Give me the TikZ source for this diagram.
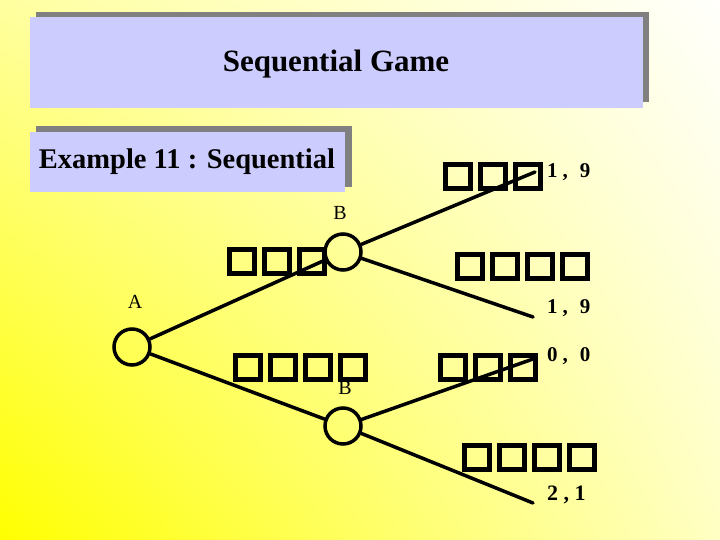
\documentclass[tikz,border=0pt]{standalone}
\usepackage{fontspec}
\setmainfont{Liberation Serif}
\usetikzlibrary{shadings}
\definecolor{boxfill}{RGB}{204,204,255}
\definecolor{shadowgray}{RGB}{128,128,128}
\definecolor{bgLL}{RGB}{255,255,0}
\definecolor{bgUL}{RGB}{255,255,160}
\definecolor{bgLR}{RGB}{255,255,195}
\definecolor{bgUR}{RGB}{255,255,252}
\tikzset{
  gamenode/.style={circle, draw=black, line width=3.5pt, minimum size=36pt, inner sep=0pt},
  branch/.style={line width=3.5pt, line cap=round},
  player/.style={font=\fontsize{20}{22}\selectfont, inner sep=0pt},
  payoff/.style={font=\fontsize{21}{24}\selectfont\bfseries, inner sep=0pt, anchor=west},
  tofusq/.style={draw=black, line width=5pt},
}
\newcommand{\tofurow}[3]{% left x, top y, count
  \foreach \k in {1,...,#3} {
    \draw[tofusq] ({#1+35*(\k-1)+2.5},{#2+2.5}) rectangle ({#1+35*(\k-1)+27.5},{#2+26.5});
  }
}
\begin{document}
\begin{tikzpicture}[x=1pt,y=-1pt]
\useasboundingbox (0,0) rectangle (720,540);
\shade[lower left=bgLL, upper left=bgUL, lower right=bgLR, upper right=bgUR] (0,540) rectangle (720,0);

% title box
\fill[shadowgray] (36,12) rectangle (649,102);
\fill[boxfill] (30,17) rectangle (643,108);
\node[font=\fontsize{31}{34}\selectfont\bfseries, inner sep=0pt] (title) at (336,64) {Sequential Game};

% example box
\fill[shadowgray] (36,126) rectangle (352,187);
\fill[boxfill] (30,132) rectangle (345,192);
\node[font=\fontsize{28.5}{32}\selectfont\bfseries, inner sep=0pt] (example) at (187,162) {Example 11 : Sequential};

% tree nodes
\node[gamenode] (A) at (132,347) {};
\node[gamenode] (B1) at (343,252) {};
\node[gamenode] (B2) at (343,426) {};
\coordinate (L1) at (535,172);
\coordinate (L2) at (533,317);
\coordinate (L3) at (533,359);
\coordinate (L4) at (533,503);

\draw[branch] (A) -- (B1);
\draw[branch] (A) -- (B2);
\draw[branch] (B1) -- (L1);
\draw[branch] (B1) -- (L2);
\draw[branch] (B2) -- (L3);
\draw[branch] (B2) -- (L4);

% tofu (missing glyph boxes)
\tofurow{443}{162}{3}
\tofurow{227}{247}{3}
\tofurow{455}{252}{4}
\tofurow{233}{353}{4}
\tofurow{438}{353}{3}
\tofurow{462}{443}{4}

% labels
\node[player] (labB1) at (340,213) {B};
\node[player] (labA) at (135,302) {A};
\node[player] (labB2) at (345,388) {B};

\node[payoff] (p1) at (547,172) {1\hspace{5pt},\hspace{12pt}9};
\node[payoff] (p2) at (547,308) {1\hspace{5pt},\hspace{12pt}9};
\node[payoff] (p3) at (547,356) {0\hspace{5pt},\hspace{12pt}0};
\node[payoff,font=\fontsize{22}{24}\selectfont\bfseries] (p4) at (547,495) {2 , 1};
\end{tikzpicture}
\end{document}
